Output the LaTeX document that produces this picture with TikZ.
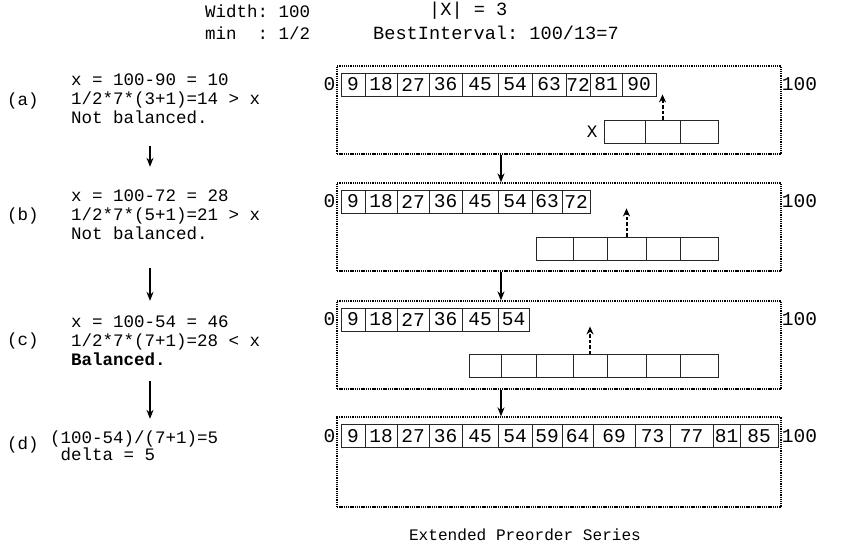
\documentclass[tikz,border=0pt]{standalone}
\usepackage{fontspec}
\setmonofont{Liberation Mono}
\usetikzlibrary{arrows.meta, positioning}

\begin{document}
\begin{tikzpicture}[x=1pt, y=-1pt,
  txt/.style={font=\ttfamily\fontsize{17.5}{19}\selectfont, inner sep=0pt, anchor=west, align=left},
  hdr/.style={font=\ttfamily\fontsize{18.6}{19}\selectfont, inner sep=0pt, anchor=west},
  cell/.style={rectangle, draw=black!85, line width=0.8pt, minimum height=23pt, inner sep=0pt,
    font=\ttfamily\fontsize{19.5}{19}\selectfont},
  slot/.style={rectangle, draw=black!85, line width=0.8pt, minimum height=23pt, inner sep=0pt},
  lbl/.style={font=\ttfamily\fontsize{19.5}{19}\selectfont, inner sep=0pt},
  panel/.style={rectangle, draw=black, line width=1.3pt, dash pattern=on 1.3pt off 0.9pt,
    minimum width=444pt, minimum height=88pt, inner sep=0pt},
  arr/.style={-{Stealth[length=9pt, width=7pt]}, line width=1.5pt},
  darr/.style={-{Stealth[length=8pt, width=7pt]}, line width=2pt, dash pattern=on 3.5pt off 2pt,
    shorten >=-2pt}
]
  \useasboundingbox (0,0) rectangle (854,544);

  % header
  \node[txt] (hw)  at (205, 11) {Width: 100};
  \node[txt] (hm)  at (205, 33) {min\ \ : 1/2};
  \node[hdr] (hx)  at (429, 11) {|X| = 3};
  \node[hdr] (hb)  at (373, 33) {BestInterval: 100/13=7};

  % left column
  \node[txt] (la) at (7, 101) {(a)};
  \node[txt] (ta) at (71, 99) {x = 100-90 = 10\\1/2*7*(3+1)=14 > x\\Not balanced.};
  \node[txt] (lb) at (7, 216) {(b)};
  \node[txt] (tb) at (71, 215) {x = 100-72 = 28\\1/2*7*(5+1)=21 > x\\Not balanced.};
  \node[txt] (lc) at (7, 341) {(c)};
  \node[txt] (tc) at (71, 341) {x = 100-54 = 46\\1/2*7*(7+1)=28 < x\\\textbf{Balanced.}};
  \node[txt] (ld) at (7, 445) {(d)};
  \node[txt, font=\ttfamily\fontsize{17.5}{17}\selectfont] (td) at (50, 446)
    {(100-54)/(7+1)=5\\\hphantom{(}delta = 5};

  \coordinate (col) at (150, 0);
  \draw[arr, shorten <=22pt, shorten >=23pt] (ta.south -| col) -- (tb.north -| col);
  \draw[arr, shorten <=28pt, shorten >=15pt] (tb.south -| col) -- (tc.north -| col);
  \draw[arr, shorten <=15pt, shorten >=12pt] (tc.south -| col) -- (td.north -| col);

  % panels
  \node[panel] (pa) at (559, 110) {};
  \node[panel] (pb) at (559, 227) {};
  \node[panel] (pc) at (559, 345) {};
  \node[panel, minimum height=90pt] (pd) at (559, 462) {};

  \draw[arr] ([xshift=-58pt]pa.south) -- ([xshift=-58pt]pb.north);
  \draw[arr] ([xshift=-58pt]pb.south) -- ([xshift=-58pt]pc.north);
  \draw[arr] ([xshift=-58pt]pc.south) -- ([xshift=-58pt]pd.north);

  % panel (a)
  \node[cell, minimum width=24pt] (ra1)  at (353, 84.5) {9};
  \node[cell, minimum width=32pt] (ra2)  at (381, 84.5) {18};
  \node[cell, minimum width=32pt] (ra3)  at (413, 84.5) {27};
  \node[cell, minimum width=33pt] (ra4)  at (445.5, 84.5) {36};
  \node[cell, minimum width=36pt] (ra5)  at (480, 84.5) {45};
  \node[cell, minimum width=34pt] (ra6)  at (515, 84.5) {54};
  \node[cell, minimum width=34pt] (ra7)  at (549, 84.5) {63};
  \node[cell, minimum width=24pt] (ra8)  at (578, 84.5) {72};
  \node[cell, minimum width=32pt] (ra9)  at (606, 84.5) {81};
  \node[cell, minimum width=34pt] (ra10) at (639, 84.5) {90};
  \node[lbl, left=5pt of ra1] (za) {0};
  \node[lbl, anchor=west] (ea) at (pa.east |- ra1) {100};

  \node[slot, minimum width=41pt] (sa1) at (624.5, 131.5) {};
  \node[slot, minimum width=35pt] (sa2) at (662.5, 131.5) {};
  \node[slot, minimum width=38pt] (sa3) at (699, 131.5) {};
  \node[txt, anchor=east, left=6pt of sa1] (xa) {X};
  \draw[darr] (sa2.north) -- (sa2.north |- ra10.south);

  % panel (b)
  \node[cell, minimum width=24pt] (rb1) at (353, 201.5) {9};
  \node[cell, minimum width=32pt] (rb2) at (381, 201.5) {18};
  \node[cell, minimum width=32pt] (rb3) at (413, 201.5) {27};
  \node[cell, minimum width=33pt] (rb4) at (445.5, 201.5) {36};
  \node[cell, minimum width=36pt] (rb5) at (480, 201.5) {45};
  \node[cell, minimum width=34pt] (rb6) at (515, 201.5) {54};
  \node[cell, minimum width=30pt] (rb7) at (547, 201.5) {63};
  \node[cell, minimum width=28pt] (rb8) at (576, 201.5) {72};
  \node[lbl, left=5pt of rb1] (zb) {0};
  \node[lbl, anchor=west] (eb) at (pb.east |- rb1) {100};

  \node[slot, minimum width=37pt] (sb1) at (554.5, 248.5) {};
  \node[slot, minimum width=34pt] (sb2) at (590, 248.5) {};
  \node[slot, minimum width=39pt] (sb3) at (626.5, 248.5) {};
  \node[slot, minimum width=34pt] (sb4) at (663, 248.5) {};
  \node[slot, minimum width=38pt] (sb5) at (699, 248.5) {};
  \draw[darr] (sb3.north) -- ([yshift=3pt]sb3.north |- rb8.south);

  % panel (c)
  \node[cell, minimum width=24pt] (rc1) at (353, 319.5) {9};
  \node[cell, minimum width=32pt] (rc2) at (381, 319.5) {18};
  \node[cell, minimum width=32pt] (rc3) at (413, 319.5) {27};
  \node[cell, minimum width=33pt] (rc4) at (445.5, 319.5) {36};
  \node[cell, minimum width=36pt] (rc5) at (480, 319.5) {45};
  \node[cell, minimum width=31pt] (rc6) at (513.5, 319.5) {54};
  \node[lbl, left=5pt of rc1] (zc) {0};
  \node[lbl, anchor=west] (ec) at (pc.east |- rc1) {100};

  \node[slot, minimum width=32pt] (sc1) at (485, 366) {};
  \node[slot, minimum width=35pt] (sc2) at (518.5, 366) {};
  \node[slot, minimum width=37pt] (sc3) at (554.5, 366) {};
  \node[slot, minimum width=34pt] (sc4) at (590, 366) {};
  \node[slot, minimum width=39pt] (sc5) at (626.5, 366) {};
  \node[slot, minimum width=34pt] (sc6) at (663, 366) {};
  \node[slot, minimum width=38pt] (sc7) at (699, 366) {};
  \draw[darr] (sc4.north) -- ([yshift=3pt]sc4.north |- rc6.south);

  % panel (d)
  \node[cell, minimum width=24pt] (rd1)  at (353, 436) {9};
  \node[cell, minimum width=32pt] (rd2)  at (381, 436) {18};
  \node[cell, minimum width=32pt] (rd3)  at (413, 436) {27};
  \node[cell, minimum width=33pt] (rd4)  at (445.5, 436) {36};
  \node[cell, minimum width=36pt] (rd5)  at (480, 436) {45};
  \node[cell, minimum width=34pt] (rd6)  at (515, 436) {54};
  \node[cell, minimum width=30pt] (rd7)  at (547, 436) {59};
  \node[cell, minimum width=31pt] (rd8)  at (577.5, 436) {64};
  \node[cell, minimum width=42pt] (rd9)  at (614, 436) {69};
  \node[cell, minimum width=35pt] (rd10) at (652.5, 436) {73};
  \node[cell, minimum width=43pt] (rd11) at (691.5, 436) {77};
  \node[cell, minimum width=27pt] (rd12) at (726.5, 436) {81};
  \node[cell, minimum width=38pt] (rd13) at (759, 436) {85};
  \node[lbl, left=5pt of rd1] (zd) {0};
  \node[lbl, anchor=west] (ed) at (pd.east |- rd1) {100};

  \node[font=\ttfamily\fontsize{16.1}{17}\selectfont, inner sep=0pt] (cap) at (525, 535)
    {Extended Preorder Series};
\end{tikzpicture}
\end{document}
